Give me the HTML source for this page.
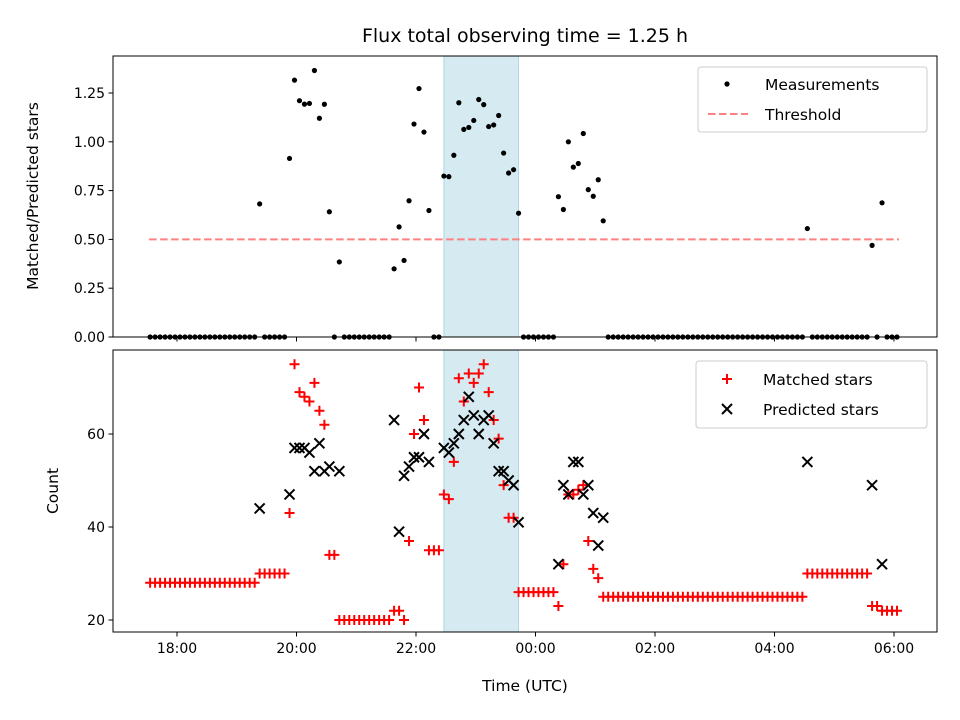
<!DOCTYPE html>
<html><head><meta charset="utf-8"><style>
body{margin:0;background:#fff;}
svg{display:block;font-family:"DejaVu Sans","Liberation Sans",sans-serif;}
</style></head><body>
<svg id="chart" width="960" height="720" viewBox="0 0 960 720" xmlns="http://www.w3.org/2000/svg">
<rect width="960" height="720" fill="#fff"/>
<text x="525" y="42" font-size="19" text-anchor="middle">Flux total observing time = 1.25 h</text>
<g id="topPanel"></g><g id="botPanel"></g>
</svg>
<script>
// minutes relative to 18:00 UTC
const times=[-27,-22,-17,-12,-7,-2,3,8,13,18,23,28,33,38,43,48,53,58,63,68,73,78,83,88,93,98,103,108,113,118,123,128,133,138,143,148,153,158,163,168,173,178,183,188,193,198,203,208,213,218,223,228,233,238,243,248,253,258,263,268,273,278,283,288,293,298,303,308,313,318,323,328,333,338,343,348,353,358,363,368,373,378,383,388,393,398,403,408,413,418,423,428,433,438,443,448,453,458,463,468,473,478,483,488,493,498,503,508,513,518,523,528,533,538,543,548,553,558,563,568,573,578,583,588,593,598,603,608,613,618,623,628,633,638,643,648,653,658,663,668,673,678,683,688,693,698,703,708,713,718,723];
const matched=[28,28,28,28,28,28,28,28,28,28,28,28,28,28,28,28,28,28,28,28,28,28,
30,30,30,30,30,30,
43,75,69,68,67,71,65,62,34,34,
20,20,20,20,20,20,20,20,20,20,20,
22,22,20,37,60,70,63,35,35,35,47,46,54,72,67,73,71,73,75,69,63,59,49,42,42,
26,26,26,26,26,26,26,26,
23,32,47,47,48,49,37,31,29,
25,25,25,25,25,25,25,25,25,25,
25,25,25,25,25,25,25,25,25,25,
25,25,25,25,25,25,25,25,25,25,
25,25,25,25,25,25,25,25,25,25,
25,
30,30,30,30,30,30,30,30,30,30,30,30,30,
23,23,22,22,22,22];
const predTimes=[83,113,118,123,128,133,138,143,148,153,163,218,223,228,233,238,243,248,253,268,273,278,283,288,293,298,303,308,313,318,323,328,333,338,343,383,388,393,398,403,408,413,418,423,428,633,698,708];
const predicted=[44,47,57,57,57,56,52,58,52,53,52,63,39,51,53,55,55,60,54,57,56,58,60,63,68,64,60,63,64,58,52,52,50,49,41,32,49,47,54,54,47,49,43,36,42,54,49,32];
const threshold=0.5;
const thrRange=[-28,725];
const obsWindow=[268,343];
const xTickMin=[0,120,240,360,480,600,720];
const xTickLabels=["18:00","20:00","22:00","00:00","02:00","04:00","06:00"];
const topTicks=[0,0.25,0.5,0.75,1.0,1.25];
const botTicks=[20,40,60];

const NS="http://www.w3.org/2000/svg";
const L=113,R=937;
const X=m=>177+m*(59.75/60);
const Yt=v=>337-v*195.2;
const Yb=v=>620-(v-20)*4.65;
function el(tag,attrs,parent){const e=document.createElementNS(NS,tag);for(const k in attrs)e.setAttribute(k,attrs[k]);if(parent)parent.appendChild(e);return e;}
const gTop=document.getElementById('topPanel'),gBot=document.getElementById('botPanel');

function frame(g,y0,y1,name){
  const r=el('rect',{x:L,y:y0,width:R-L,height:y1-y0,fill:'none',stroke:'#000','stroke-width':1},g);
  
  
}
function span(g,y0,y1,name){
  const r=el('rect',{x:X(obsWindow[0]),y:y0,width:X(obsWindow[1])-X(obsWindow[0]),height:y1-y0,fill:'#d5eaf1',stroke:'#b3d7e3','stroke-width':1},g);
  
  
}
function xticks(g,y,labels){
  xTickMin.forEach((m,i)=>{
    const t=el('line',{x1:X(m),x2:X(m),y1:y,y2:y+4.5,stroke:'#000','stroke-width':1},g);
    
    
    if(labels){const tx=el('text',{x:X(m),y:y+21,'font-size':14,'text-anchor':'middle'},g);tx.textContent=xTickLabels[i];
      
      }
  });
}
function yticks(g,ticks,Y,fmt){
  ticks.forEach(v=>{
    const t=el('line',{x1:L-4.5,x2:L,y1:Y(v),y2:Y(v),stroke:'#000','stroke-width':1},g);
    
    
    const tx=el('text',{x:L-8,y:Y(v)+5,'font-size':14,'text-anchor':'end'},g);tx.textContent=fmt(v);
    
    
  });
}
// TOP PANEL
span(gTop,56,337,'observing-window-top');
const thr=el('line',{x1:X(thrRange[0]),x2:X(thrRange[1]),y1:Yt(threshold),y2:Yt(threshold),stroke:'#ff8080','stroke-width':2,'stroke-dasharray':'7.5,3.5'},gTop);


times.forEach((m,i)=>{
  const j=predTimes.indexOf(m);
  const v=j>=0?matched[i]/predicted[j]:0;
  const c=el('circle',{cx:X(m),cy:Yt(v),r:2.6,fill:'#000'},gTop);
  
  
});
frame(gTop,56,337,'top-axes');
xticks(gTop,337,false);
yticks(gTop,topTicks,Yt,v=>v.toFixed(2));
const yl1=el('text',{x:0,y:0,'font-size':15.5,'text-anchor':'middle',transform:'translate(38,196) rotate(-90)'},gTop);yl1.textContent='Matched/Predicted stars';


const lg1=el('rect',{x:698,y:67,width:229,height:65,rx:3,fill:'#fff','fill-opacity':0.8,stroke:'#ccc'},gTop);


el('circle',{cx:727,cy:84,r:2.6,fill:'#000'},gTop);
const lt1=el('text',{x:765,y:90,'font-size':15.5},gTop);lt1.textContent='Measurements';


el('line',{x1:708,x2:748,y1:114,y2:114,stroke:'#ff8080','stroke-width':2,'stroke-dasharray':'7.5,3.5'},gTop);
const lt2=el('text',{x:765,y:120,'font-size':15.5},gTop);lt2.textContent='Threshold';



// BOTTOM PANEL
span(gBot,350,632,'observing-window-bottom');
times.forEach((m,i)=>{
  const x=X(m),y=Yb(matched[i]);
  const p=el('path',{d:`M${x-5},${y}H${x+5}M${x},${y-5}V${y+5}`,stroke:'#ff0000','stroke-width':2,fill:'none'},gBot);
  
  
});
predTimes.forEach((m,i)=>{
  const x=X(m),y=Yb(predicted[i]);
  const p=el('path',{d:`M${x-5},${y-5}L${x+5},${y+5}M${x-5},${y+5}L${x+5},${y-5}`,stroke:'#000','stroke-width':2,fill:'none'},gBot);
  
  
});
frame(gBot,350,632,'bottom-axes');
xticks(gBot,632,true);
yticks(gBot,botTicks,Yb,v=>String(v));
const yl2=el('text',{x:0,y:0,'font-size':15.5,'text-anchor':'middle',transform:'translate(58,491) rotate(-90)'},gBot);yl2.textContent='Count';


const xl=el('text',{x:525,y:691,'font-size':15.5,'text-anchor':'middle'},gBot);xl.textContent='Time (UTC)';


const lg2=el('rect',{x:696,y:361,width:231,height:67,rx:3,fill:'#fff','fill-opacity':0.8,stroke:'#ccc'},gBot);


el('path',{d:'M722,379H732M727,374V384',stroke:'#ff0000','stroke-width':2},gBot);
const lt3=el('text',{x:763,y:385,'font-size':15.5},gBot);lt3.textContent='Matched stars';


el('path',{d:'M722,404L732,414M722,414L732,404',stroke:'#000','stroke-width':2},gBot);
const lt4=el('text',{x:763,y:415,'font-size':15.5},gBot);lt4.textContent='Predicted stars';


</script>
</body></html>
